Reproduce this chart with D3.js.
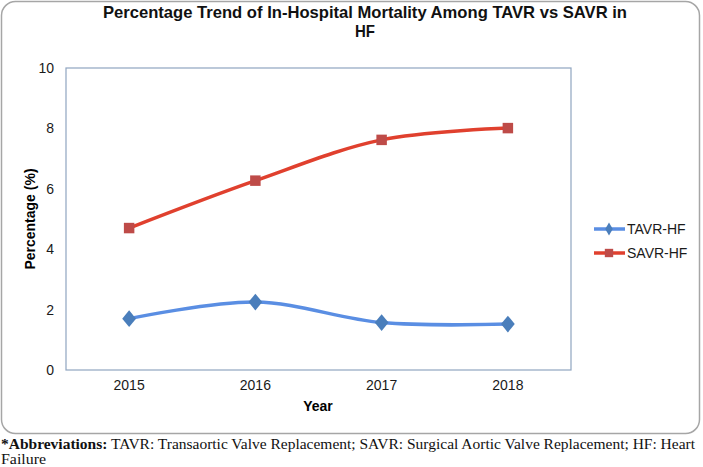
<!DOCTYPE html>
<html><head><meta charset="utf-8">
<script src="https://cdn.jsdelivr.net/npm/d3@7"></script>
<style>body{margin:0;background:#fff}svg{display:block}</style>
</head><body><svg id="c" width="703" height="467"></svg>
<script>
const years = ["2015","2016","2017","2018"];
const tavr = [1.70, 2.25, 1.57, 1.52];
const savr = [4.70, 6.27, 7.62, 8.01];
const yTicks = [0,2,4,6,8,10];
const seriesNames = ["TAVR-HF","SAVR-HF"];

const svg = d3.select("#c");
svg.append("rect").attr("x",1.5).attr("y",1.5).attr("width",698).attr("height",432)
  .attr("rx",14).attr("fill","#fff").attr("stroke","#a6a6a6").attr("stroke-width",1.5);

const x=d3.scaleBand().domain(years).range([66,571]);
const y=d3.scaleLinear().domain([0,10]).range([370,68]);

svg.append("rect").attr("x",66).attr("y",68).attr("width",505).attr("height",302)
  .attr("fill","none").attr("stroke","#8fa5c0").attr("stroke-width",1.2);

const font="Liberation Sans, Arial, sans-serif";
const yAxis=svg.append("g").attr("transform","translate(66,0)")
  .call(d3.axisLeft(y).tickValues(yTicks).tickSize(0).tickPadding(12).tickFormat(d3.format("d")));
yAxis.select(".domain").remove();
yAxis.selectAll("text").attr("font-family",font).attr("font-size",14).attr("fill","#1a1a1a");

const xAxis=svg.append("g").attr("transform","translate(0,370)")
  .call(d3.axisBottom(x).tickSize(0).tickPadding(10));
xAxis.select(".domain").remove();
xAxis.selectAll("text").attr("font-family",font).attr("font-size",14).attr("fill","#1a1a1a");

svg.append("text").attr("x",318).attr("y",411).attr("text-anchor","middle")
  .attr("font-family",font).attr("font-weight","bold").attr("font-size",14).text("Year");
svg.append("text").attr("transform","translate(35,219) rotate(-90)").attr("text-anchor","middle")
  .attr("font-family",font).attr("font-weight","bold").attr("font-size",14).text("Percentage (%)");

svg.append("text").attr("x",365).attr("y",18).attr("text-anchor","middle").attr("font-family",font)
  .attr("font-weight","bold").attr("font-size",17).attr("fill","#111")
  .attr("textLength",524).attr("lengthAdjust","spacingAndGlyphs")
  .text("Percentage Trend of In-Hospital Mortality Among TAVR vs SAVR in");
svg.append("text").attr("x",365).attr("y",37).attr("text-anchor","middle").attr("font-family",font)
  .attr("font-weight","bold").attr("font-size",17).attr("fill","#111")
  .attr("textLength",20).attr("lengthAdjust","spacingAndGlyphs").text("HF");

const cx=d=>x(d)+x.bandwidth()/2;
const line=d3.line().curve(d3.curveCatmullRom.alpha(0.5));
const cols=[{line:"#5a8ee3",mk:"#4a7ebb"},{line:"#e0402e",mk:"#be4b48"}];
[tavr,savr].forEach((s,i)=>{
  const pts=years.map((yr,j)=>[cx(yr),y(s[j])]);
  svg.append("path").attr("d",line(pts)).attr("fill","none").attr("stroke",cols[i].line).attr("stroke-width",3.5);
  const sym=d3.symbol().type(i===0?d3.symbolDiamond:d3.symbolSquare).size(i===0?90:110);
  svg.selectAll(null).data(pts).enter().append("path")
    .attr("transform",d=>`translate(${d[0]},${d[1]})${i===0?"scale(1.35,0.95)":""}`)
    .attr("d",sym).attr("fill",cols[i].mk);
});

seriesNames.forEach((n,i)=>{
  const ly=229+i*24;
  svg.append("line").attr("x1",594).attr("x2",625).attr("y1",ly).attr("y2",ly)
    .attr("stroke",cols[i].line).attr("stroke-width",3.5);
  const sym=d3.symbol().type(i===0?d3.symbolDiamond:d3.symbolSquare).size(i===0?50:70);
  svg.append("path").attr("transform",`translate(609,${ly})`).attr("d",sym).attr("fill",cols[i].mk);
  svg.append("text").attr("x",627).attr("y",ly+5).attr("font-family",font).attr("font-size",14)
    .attr("fill","#1a1a1a").text(n);
});

const sfont="Liberation Serif, Times New Roman, serif";
const fn=svg.append("text").attr("x",1).attr("y",449).attr("font-family",sfont).attr("font-size",14.5).attr("fill","#111")
  .attr("textLength",694).attr("lengthAdjust","spacingAndGlyphs");
fn.append("tspan").attr("font-weight","bold").text("*Abbreviations:");
fn.append("tspan").text(" TAVR: Transaortic Valve Replacement; SAVR: Surgical Aortic Valve Replacement; HF: Heart");
svg.append("text").attr("x",1).attr("y",464).attr("font-family",sfont).attr("font-size",14.5).attr("fill","#111")
  .attr("textLength",45).attr("lengthAdjust","spacingAndGlyphs").text("Failure");
</script></body></html>
